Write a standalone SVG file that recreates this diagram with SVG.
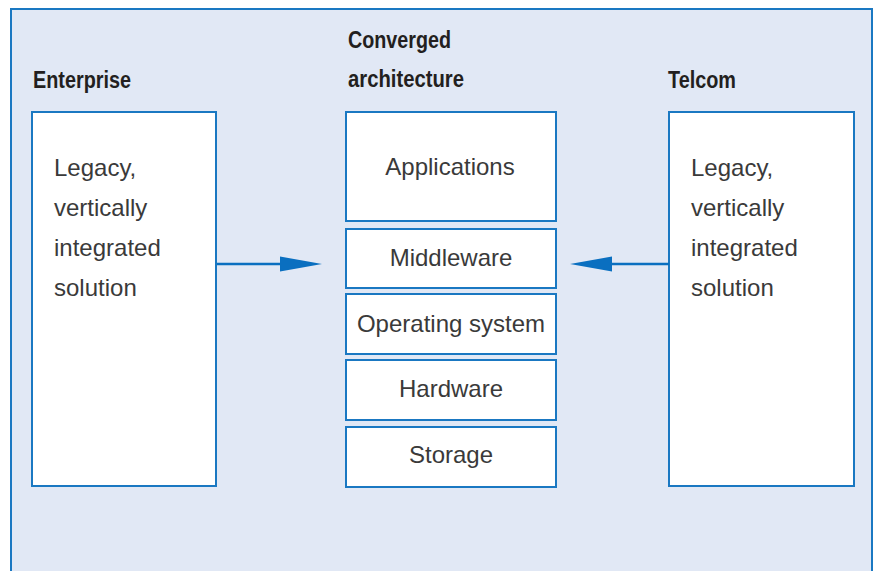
<svg xmlns="http://www.w3.org/2000/svg" width="875" height="571" viewBox="0 0 875 571">
<style>
.frame{fill:#e1e8f5;stroke:#1a78c2;stroke-width:2}
.box{fill:#ffffff;stroke:#1a78c2;stroke-width:2}
.head{font-family:"Liberation Sans Narrow","Liberation Sans",Arial,sans-serif;font-weight:bold;font-size:23px;fill:#231f20}
.body{font-family:"Liberation Sans",Arial,sans-serif;font-size:24px;fill:#3a3a3a}
.mid{text-anchor:middle}
.conn{stroke:#0a6fc0;stroke-width:2.5;fill:none}
.ah{fill:#0a6fc0}
</style>
<rect class="frame" x="11" y="9" width="861" height="580"/>
<text class="head" x="33" y="88" textLength="98" lengthAdjust="spacingAndGlyphs">Enterprise</text>
<text class="head" x="348" y="48" textLength="103" lengthAdjust="spacingAndGlyphs">Converged</text>
<text class="head" x="348" y="87" textLength="116" lengthAdjust="spacingAndGlyphs">architecture</text>
<text class="head" x="668" y="88" textLength="68" lengthAdjust="spacingAndGlyphs">Telcom</text>
<g id="enterprise">
<rect class="box" x="32" y="112" width="184" height="374"/>
<text class="body" x="54" y="176">Legacy,</text>
<text class="body" x="54" y="216">vertically</text>
<text class="body" x="54" y="256">integrated</text>
<text class="body" x="54" y="296">solution</text>
</g>
<g id="applications">
<rect class="box" x="346" y="112" width="210" height="109"/>
<text class="body mid" x="450" y="175">Applications</text>
</g>
<g id="middleware">
<rect class="box" x="346" y="229" width="210" height="59"/>
<text class="body mid" x="451" y="266">Middleware</text>
</g>
<g id="os">
<rect class="box" x="346" y="294" width="210" height="60"/>
<text class="body mid" x="451" y="332">Operating system</text>
</g>
<g id="hardware">
<rect class="box" x="346" y="360" width="210" height="60"/>
<text class="body mid" x="451" y="397">Hardware</text>
</g>
<g id="storage">
<rect class="box" x="346" y="427" width="210" height="60"/>
<text class="body mid" x="451" y="463">Storage</text>
</g>
<g id="telcom">
<rect class="box" x="669" y="112" width="185" height="374"/>
<text class="body" x="691" y="176">Legacy,</text>
<text class="body" x="691" y="216">vertically</text>
<text class="body" x="691" y="256">integrated</text>
<text class="body" x="691" y="296">solution</text>
</g>
<g id="connectors">
<line class="conn" x1="217" y1="264" x2="282" y2="264"/>
<polygon class="ah" points="280,256.5 322,264 280,271.5"/>
<line class="conn" x1="669" y1="264" x2="610" y2="264"/>
<polygon class="ah" points="612,256.5 570,264 612,271.5"/>
</g>
</svg>
